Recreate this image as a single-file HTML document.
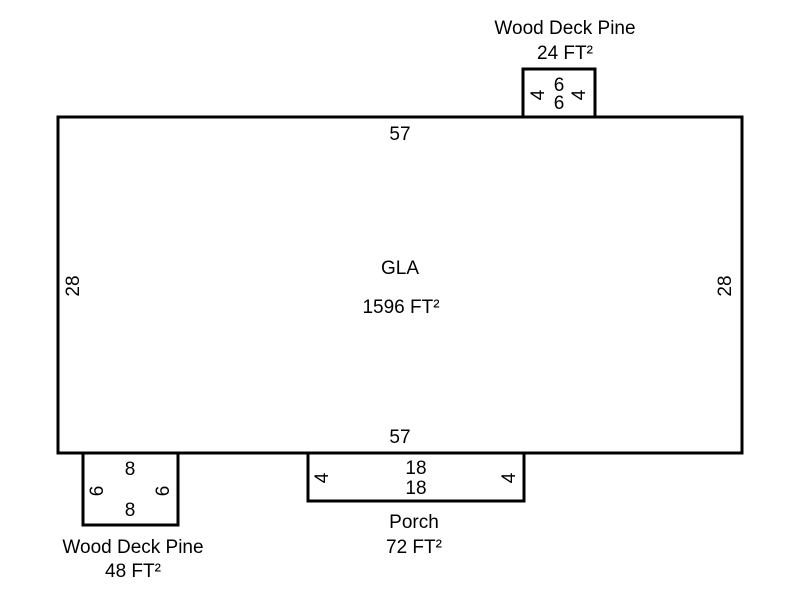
<!DOCTYPE html>
<html><head><style>body{margin:0;background:#fff}</style></head><body>
<svg width="800" height="600" xmlns="http://www.w3.org/2000/svg" font-family="Liberation Sans, Arial, sans-serif" font-size="19" fill="#000">
<g fill="none" stroke="#000" stroke-width="3">
<rect x="58" y="117" width="684" height="336"/>
<rect x="523" y="69" width="72" height="48"/>
<rect x="83" y="453" width="95" height="72"/>
<rect x="308" y="453" width="216" height="48"/>
</g>
<g text-anchor="middle" transform="translate(0,1)">
<text x="400" y="139">57</text>
<text x="400" y="442">57</text>
<text x="400" y="273">GLA</text>
<text x="401" y="312">1596 FT²</text>
<text transform="translate(79,285) rotate(-90)">28</text>
<text transform="translate(731,285) rotate(-90)">28</text>
<text x="565" y="33">Wood Deck Pine</text>
<text x="565" y="58">24 FT²</text>
<text x="559" y="90">6</text>
<text x="559" y="108">6</text>
<text transform="translate(544,94) rotate(-90)">4</text>
<text transform="translate(585,94) rotate(-90)">4</text>
<text x="130" y="474">8</text>
<text x="130" y="515">8</text>
<text transform="translate(103,490) rotate(-90)">6</text>
<text transform="translate(169,490) rotate(-90)">6</text>
<text x="133" y="552">Wood Deck Pine</text>
<text x="133" y="576">48 FT²</text>
<text x="416" y="473">18</text>
<text x="416" y="493">18</text>
<text transform="translate(328,477) rotate(-90)">4</text>
<text transform="translate(515,477) rotate(-90)">4</text>
<text x="414" y="527">Porch</text>
<text x="414" y="552">72 FT²</text>
</g>
</svg>
</body></html>
